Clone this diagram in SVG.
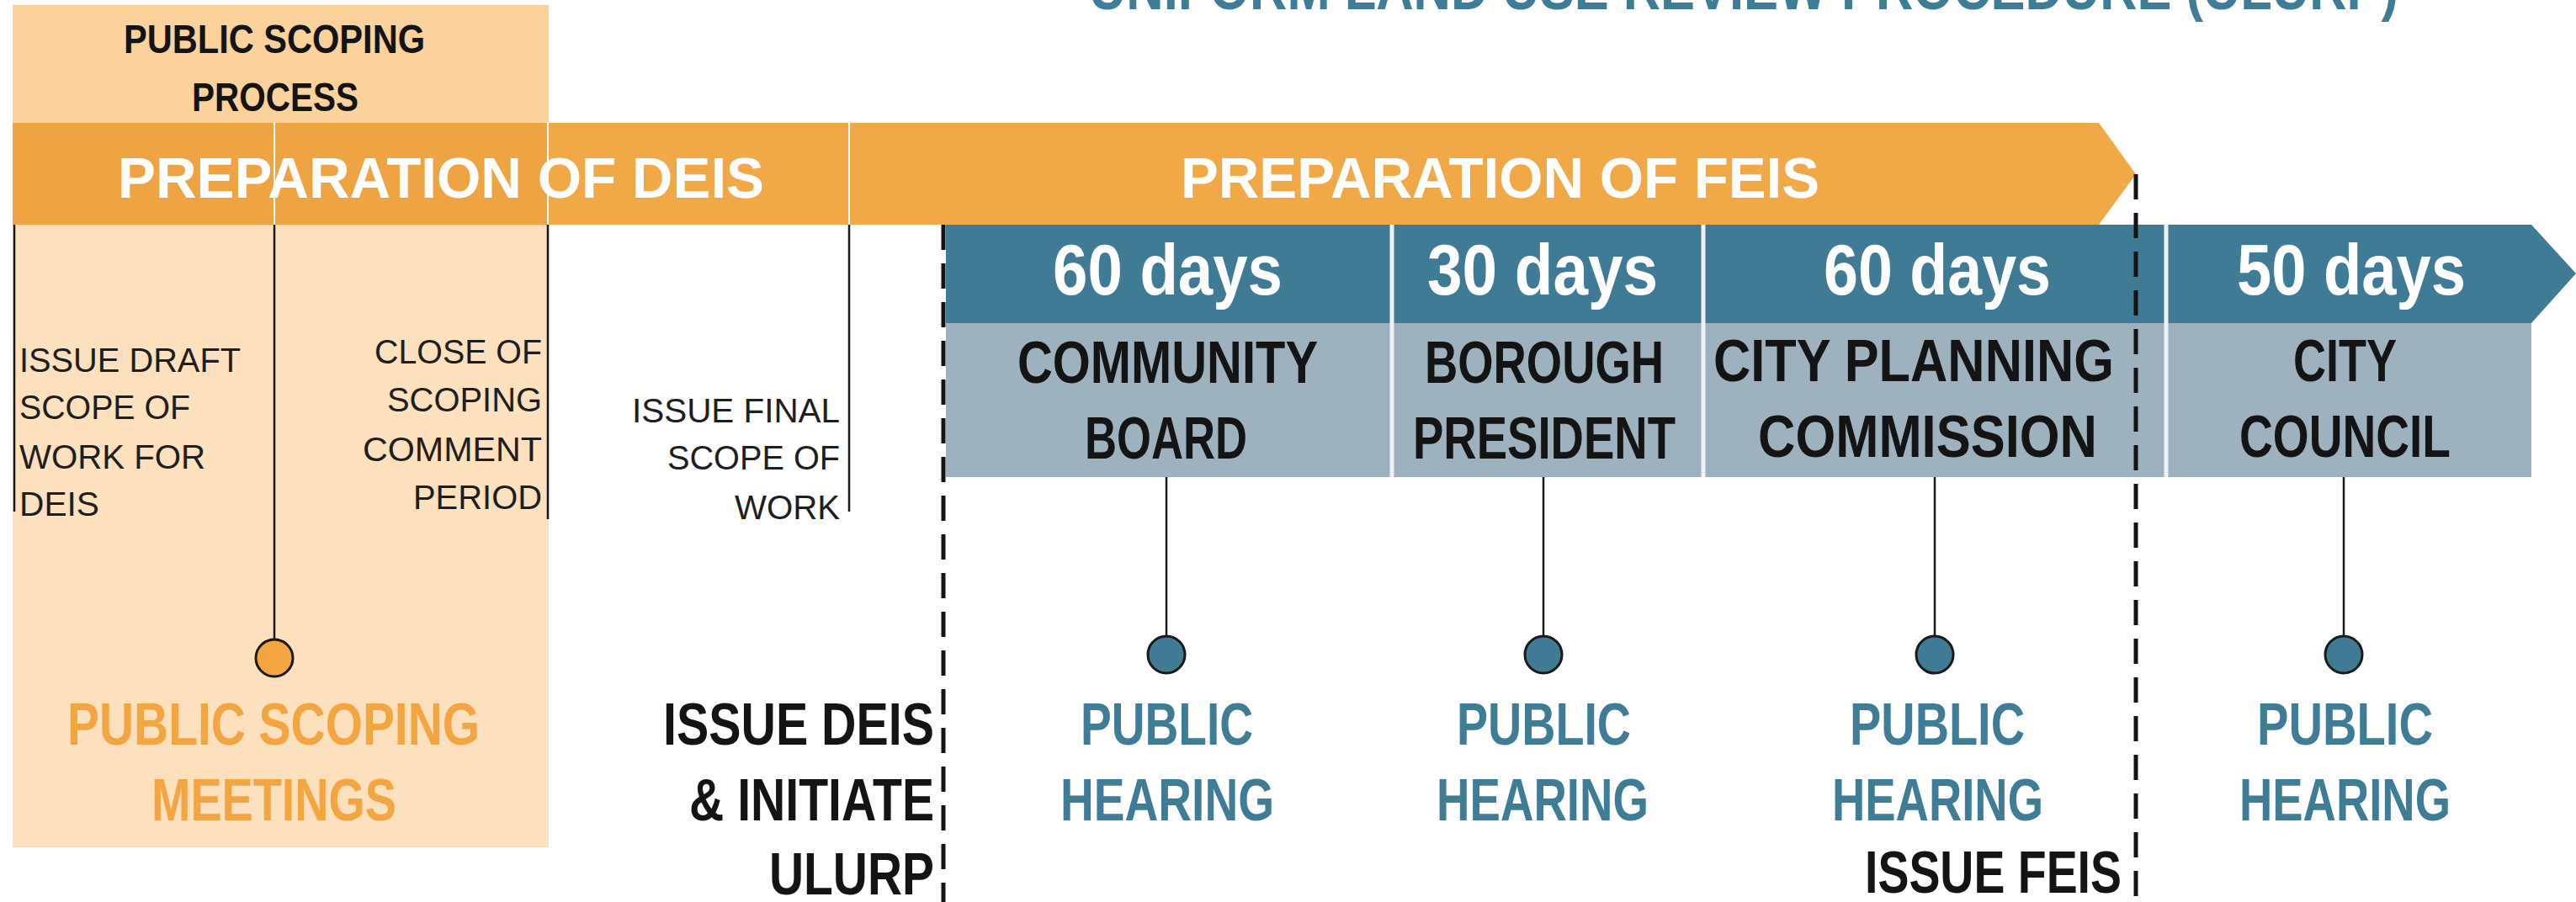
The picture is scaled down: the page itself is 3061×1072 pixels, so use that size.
<svg xmlns="http://www.w3.org/2000/svg" width="3061" height="1072" viewBox="0 0 3061 1072">
<style>
text{font-family:"Liberation Sans",Arial,sans-serif;}
.b{font-weight:bold;}
.hd{font-size:49px;fill:#141414;font-weight:bold;}
.bar{font-size:68px;fill:#ffffff;font-weight:bold;}
.sm{font-size:41px;fill:#1e1e1e;}
.days{font-size:86px;fill:#ffffff;font-weight:bold;}
.lab{font-size:70px;fill:#141414;font-weight:bold;}
.ph{font-size:70px;fill:#3f7d97;font-weight:bold;}
.po{font-size:70px;fill:#f2a540;font-weight:bold;}
.blk{font-size:70px;fill:#141414;font-weight:bold;}
.ln{stroke:#1a1a1a;stroke-width:2.5;fill:none;}
.dash{stroke:#141414;stroke-width:5;stroke-dasharray:30 16;fill:none;}
.wl{stroke:#ffffff;stroke-width:2;}
.div{stroke:#eef2f5;stroke-width:5;}
.cb{fill:#3f7b95;stroke:#1a1a1a;stroke-width:3;}
.co{fill:#f2a540;stroke:#1a1a1a;stroke-width:3;}
</style>
<rect width="3061" height="1072" fill="#ffffff"/>

<g id="title">
<text class="b" x="1294" y="11" font-size="72" fill="#3f7d97" textLength="1556" lengthAdjust="spacingAndGlyphs">UNIFORM LAND USE REVIEW PROCEDURE (ULURP)</text>
</g>

<g id="scoping-box">
<rect x="15" y="6" width="637" height="141" fill="#fbd19c"/>
<rect x="15" y="266" width="637" height="741" fill="#fde0bd"/>
<text class="hd" x="147" y="63" textLength="358" lengthAdjust="spacingAndGlyphs">PUBLIC SCOPING</text>
<text class="hd" x="228" y="132" textLength="198" lengthAdjust="spacingAndGlyphs">PROCESS</text>
</g>

<g id="prep-bar">
<polygon points="15,146 2494,146 2538,207 2494,267 15,267" fill="#f1a847"/>
<rect x="15" y="146" width="637" height="121" fill="#efa444"/>
<line class="wl" x1="326" y1="146" x2="326" y2="267"/>
<line class="wl" x1="651" y1="146" x2="651" y2="267"/>
<line class="wl" x1="1009" y1="146" x2="1009" y2="267"/>
<text class="bar" x="140" y="235" textLength="768" lengthAdjust="spacingAndGlyphs">PREPARATION OF DEIS</text>
<text class="bar" x="1403" y="235" textLength="759" lengthAdjust="spacingAndGlyphs">PREPARATION OF FEIS</text>
</g>

<g id="ulurp-bar">
<polygon points="1124,267 3008,267 3061,325 3008,384 1124,384" fill="#3f7b95"/>
<rect x="1124" y="384" width="1884" height="183" fill="#9eb1bf"/>
<line class="div" x1="1654" y1="267" x2="1654" y2="567"/>
<line class="div" x1="2024" y1="267" x2="2024" y2="567"/>
<line class="div" x1="2574" y1="267" x2="2574" y2="567"/>
</g>

<g id="community-board">
<text class="days" x="1251" y="350" textLength="273" lengthAdjust="spacingAndGlyphs">60 days</text>
<text class="lab" x="1209" y="455" textLength="357" lengthAdjust="spacingAndGlyphs">COMMUNITY</text>
<text class="lab" x="1289" y="545" textLength="193" lengthAdjust="spacingAndGlyphs">BOARD</text>
</g>
<g id="borough-president">
<text class="days" x="1696" y="350" textLength="274" lengthAdjust="spacingAndGlyphs">30 days</text>
<text class="lab" x="1693" y="455" textLength="284" lengthAdjust="spacingAndGlyphs">BOROUGH</text>
<text class="lab" x="1679" y="545" textLength="312" lengthAdjust="spacingAndGlyphs">PRESIDENT</text>
</g>
<g id="city-planning-commission">
<text class="days" x="2167" y="350" textLength="270" lengthAdjust="spacingAndGlyphs">60 days</text>
<text class="lab" x="2036" y="453" textLength="476" lengthAdjust="spacingAndGlyphs">CITY PLANNING</text>
<text class="lab" x="2089" y="543" textLength="403" lengthAdjust="spacingAndGlyphs">COMMISSION</text>
</g>
<g id="city-council">
<text class="days" x="2658" y="350" textLength="272" lengthAdjust="spacingAndGlyphs">50 days</text>
<text class="lab" x="2725" y="453" textLength="123" lengthAdjust="spacingAndGlyphs">CITY</text>
<text class="lab" x="2661" y="543" textLength="251" lengthAdjust="spacingAndGlyphs">COUNCIL</text>
</g>

<g id="issue-draft-scope">
<text class="sm" x="23" y="442" textLength="263" lengthAdjust="spacingAndGlyphs">ISSUE DRAFT</text>
<text class="sm" x="23" y="498" textLength="203" lengthAdjust="spacingAndGlyphs">SCOPE OF</text>
<text class="sm" x="23" y="557" textLength="221" lengthAdjust="spacingAndGlyphs">WORK FOR</text>
<text class="sm" x="23" y="613" textLength="95" lengthAdjust="spacingAndGlyphs">DEIS</text>
</g>
<g id="close-of-scoping">
<text class="sm" x="445" y="432" textLength="199" lengthAdjust="spacingAndGlyphs">CLOSE OF</text>
<text class="sm" x="460" y="489" textLength="184" lengthAdjust="spacingAndGlyphs">SCOPING</text>
<text class="sm" x="431" y="548" textLength="213" lengthAdjust="spacingAndGlyphs">COMMENT</text>
<text class="sm" x="491" y="605" textLength="153" lengthAdjust="spacingAndGlyphs">PERIOD</text>
</g>
<g id="issue-final-scope">
<text class="sm" x="751" y="502" textLength="247" lengthAdjust="spacingAndGlyphs">ISSUE FINAL</text>
<text class="sm" x="793" y="558" textLength="205" lengthAdjust="spacingAndGlyphs">SCOPE OF</text>
<text class="sm" x="873" y="617" textLength="125" lengthAdjust="spacingAndGlyphs">WORK</text>
</g>

<g id="connectors">
<line class="ln" x1="17" y1="267" x2="17" y2="608"/>
<line class="ln" x1="326" y1="267" x2="326" y2="759"/>
<line class="ln" x1="651" y1="267" x2="651" y2="617"/>
<line class="ln" x1="1009" y1="267" x2="1009" y2="608"/>
<line class="ln" x1="1386" y1="567" x2="1386" y2="755"/>
<line class="ln" x1="1834" y1="567" x2="1834" y2="755"/>
<line class="ln" x1="2299" y1="567" x2="2299" y2="755"/>
<line class="ln" x1="2785" y1="567" x2="2785" y2="755"/>
<line class="dash" x1="1121" y1="267" x2="1121" y2="1072"/>
<line class="dash" x1="2538" y1="207" x2="2538" y2="1072"/>
</g>

<g id="public-scoping-meetings">
<circle class="co" cx="326" cy="782" r="22"/>
<text class="po" x="80" y="885" textLength="490" lengthAdjust="spacingAndGlyphs">PUBLIC SCOPING</text>
<text class="po" x="180" y="975" textLength="291" lengthAdjust="spacingAndGlyphs">MEETINGS</text>
</g>
<g id="issue-deis">
<text class="blk" x="788" y="885" textLength="322" lengthAdjust="spacingAndGlyphs">ISSUE DEIS</text>
<text class="blk" x="819" y="975" textLength="291" lengthAdjust="spacingAndGlyphs">&amp; INITIATE</text>
<text class="blk" x="914" y="1063" textLength="196" lengthAdjust="spacingAndGlyphs">ULURP</text>
</g>
<g id="hearing-cb">
<circle class="cb" cx="1386" cy="778" r="22"/>
<text class="ph" x="1284" y="885" textLength="205" lengthAdjust="spacingAndGlyphs">PUBLIC</text>
<text class="ph" x="1260" y="975" textLength="254" lengthAdjust="spacingAndGlyphs">HEARING</text>
</g>
<g id="hearing-bp">
<circle class="cb" cx="1834" cy="778" r="22"/>
<text class="ph" x="1731" y="885" textLength="207" lengthAdjust="spacingAndGlyphs">PUBLIC</text>
<text class="ph" x="1707" y="975" textLength="252" lengthAdjust="spacingAndGlyphs">HEARING</text>
</g>
<g id="hearing-cpc">
<circle class="cb" cx="2299" cy="778" r="22"/>
<text class="ph" x="2198" y="885" textLength="208" lengthAdjust="spacingAndGlyphs">PUBLIC</text>
<text class="ph" x="2177" y="975" textLength="251" lengthAdjust="spacingAndGlyphs">HEARING</text>
</g>
<g id="hearing-cc">
<circle class="cb" cx="2785" cy="778" r="22"/>
<text class="ph" x="2682" y="885" textLength="209" lengthAdjust="spacingAndGlyphs">PUBLIC</text>
<text class="ph" x="2661" y="975" textLength="251" lengthAdjust="spacingAndGlyphs">HEARING</text>
</g>
<g id="issue-feis">
<text class="blk" x="2216" y="1061" textLength="305" lengthAdjust="spacingAndGlyphs">ISSUE FEIS</text>
</g>
</svg>
